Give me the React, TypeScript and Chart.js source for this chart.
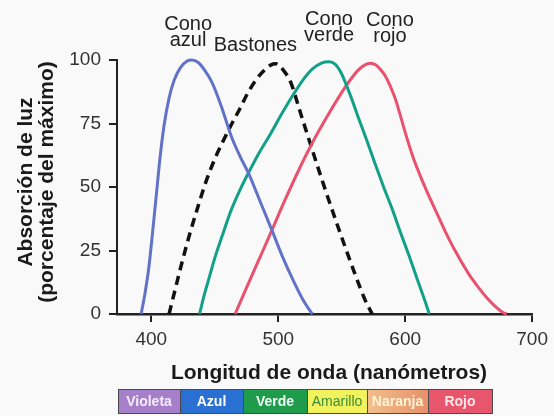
import React, { useEffect, useRef } from "react";
import { Chart, registerables } from "chart.js";

Chart.register(...registerables);

// ---- data ----
const blueX = [392, 395, 398, 401, 404, 407, 410, 414, 418, 423, 428, 432, 437, 442, 448, 455, 463, 470, 477, 486, 495, 503, 512, 519, 524, 527];
const blueY = [0, 8, 18, 32, 47, 62, 74, 85, 92, 97, 99.5, 100, 99, 96, 91, 82, 70, 62, 55, 44, 33, 23, 13, 6, 2, 0];

const rodX = [414, 418, 423, 430, 436, 443, 450, 457, 463, 470, 476, 483, 489, 494, 498, 504, 510, 517, 524, 535, 548, 561, 568, 574];
const rodY = [0, 8, 18, 31, 41, 52, 61, 68.5, 74.5, 81, 87, 92.5, 96, 98, 98.5, 96, 91, 80, 69, 52, 33, 15, 6, 0];

const greenX = [438, 442, 446, 450, 456, 463, 470, 477, 485, 494, 503, 512, 520, 527, 534, 540, 545, 549, 553, 558, 563, 570, 576, 583, 590, 596, 603, 610, 616, 619];
const greenY = [0, 8, 15, 22, 31, 41, 49, 56, 63.5, 71, 79, 86.5, 92.5, 96.5, 98.8, 99.3, 98.3, 95.5, 91, 84.5, 77.5, 68, 59.5, 50, 41, 32.5, 23, 13, 4.5, 0];

const redX = [466, 473, 480, 488, 495, 505, 516, 527, 540, 553, 558, 563, 568, 572.5, 577, 581, 584, 588, 592, 596, 600, 606, 613, 620, 626, 634, 642, 650, 657.5, 665, 672, 677, 680];
const redY = [0, 8, 16, 25, 33, 44.5, 56.5, 67.5, 79, 89.5, 93, 96, 98, 98.7, 98, 96, 94, 90, 85, 78.5, 71.5, 62, 53, 45, 38.5, 30, 22.5, 15.8, 10.6, 6, 2.5, 0.6, 0];

const xTicks = [400, 500, 600, 700];
const yTicks = [0, 25, 50, 75, 100];
const xMin = 373;
const xMax = 700;

const seriesNames = ["Cono azul", "Bastones", "Cono verde", "Cono rojo"];
const labelLines = [["Cono", "azul"], ["Bastones"], ["Cono", "verde"], ["Cono", "rojo"]];
const labelAnchorNm = [429, 482, 540, 588];

const bandLabels = ["Violeta", "Azul", "Verde", "Amarillo", "Naranja", "Rojo"];

const xTitle = "Longitud de onda (nanómetros)";
const yTitle = ["Absorción de luz", "(porcentaje del máximo)"];

const FONT = "'Liberation Sans', Arial, Helvetica, sans-serif";

function pts(xs: number[], ys: number[]) {
  return xs.map((x, i) => ({ x, y: ys[i] }));
}

const decorPlugin = {
  id: "decor",
  afterDraw(chart: any) {
    const ctx = chart.ctx as CanvasRenderingContext2D;
    const xs = chart.scales.x;
    const top = chart.chartArea.top;
    ctx.save();
    // curve labels
    ctx.fillStyle = "#222";
    ctx.font = `20px ${FONT}`;
    ctx.textAlign = "center";
    ctx.textBaseline = "alphabetic";
    const baselines = [
      [30, 46],
      [51],
      [25, 41],
      [26, 42],
    ];
    labelLines.forEach((lines, i) => {
      const cx = xs.getPixelForValue(labelAnchorNm[i]);
      lines.forEach((t, j) => {
        ctx.fillText(t, cx, top - 60 + baselines[i][j]);
      });
    });

    // x title
    ctx.font = `bold 21px ${FONT}`;
    ctx.fillStyle = "#1a1a1a";
    ctx.textBaseline = "middle";
    ctx.fillText(xTitle, 329, 373);

    // y title
    const cy = 182;
    [26, 47].forEach((cx, i) => {
      ctx.save();
      ctx.font = `bold 21px ${FONT}`;
      ctx.fillStyle = "#1a1a1a";
      ctx.textAlign = "center";
      ctx.textBaseline = "middle";
      ctx.translate(cx, cy);
      ctx.rotate(-Math.PI / 2);
      ctx.fillText(yTitle[i], 0, 0);
      ctx.restore();
    });

    // color band
    const edges = [118, 180, 243, 307, 367, 428, 492];
    const fills = ["#a67fca", "#2a70d3", "#1f9b4c", "#f1f25c", "#efa878", "#e8566d"];
    const txt = ["#f3ecfb", "#ffffff", "#f4fff6", "#3a8c3a", "#fff4d4", "#fde6ea"];
    const bTop = 389;
    const bBot = 413;
    for (let i = 0; i < bandLabels.length; i++) {
      const x0 = edges[i];
      const x1 = edges[i + 1];
      if (i === 4) {
        const g = ctx.createLinearGradient(x0, 0, x1, 0);
        g.addColorStop(0, "#f2c08c");
        g.addColorStop(1, "#e8906a");
        ctx.fillStyle = g;
      } else {
        ctx.fillStyle = fills[i];
      }
      ctx.fillRect(x0, bTop, x1 - x0, bBot - bTop);
      ctx.strokeStyle = "#4a4a4a";
      ctx.lineWidth = 1;
      ctx.strokeRect(x0 + 0.5, bTop + 0.5, x1 - x0, bBot - bTop);
      ctx.fillStyle = txt[i];
      ctx.font = i === 3 ? `14px ${FONT}` : `bold 14px ${FONT}`;
      ctx.textAlign = "center";
      ctx.textBaseline = "middle";
      ctx.fillText(bandLabels[i], (x0 + x1) / 2, (bTop + bBot) / 2 + 1);
    }
    ctx.restore();
  },
};

const bgPlugin = {
  id: "bg",
  beforeDraw(chart: any) {
    const ctx = chart.ctx as CanvasRenderingContext2D;
    ctx.save();
    ctx.fillStyle = "#f9f9f9";
    ctx.fillRect(0, 0, chart.width, chart.height);
    ctx.restore();
  },
};

export default function App() {
  const ref = useRef<HTMLCanvasElement | null>(null);
  useEffect(() => {
    document.body.style.margin = "0";
    const canvas = ref.current!;
    const common = {
      fill: false,
      pointRadius: 0,
      cubicInterpolationMode: "monotone" as const,
      clip: 6,
    };
    const chart = new Chart(canvas, {
      type: "line",
      data: {
        datasets: [
          { ...common, label: seriesNames[0], data: pts(blueX, blueY), borderColor: "#6272c8", borderWidth: 3 },
          { ...common, label: seriesNames[2], data: pts(greenX, greenY), borderColor: "#13a089", borderWidth: 3 },
          { ...common, label: seriesNames[3], data: pts(redX, redY), borderColor: "#e9526f", borderWidth: 3 },
          { ...common, label: seriesNames[1], data: pts(rodX, rodY), borderColor: "#111111", borderWidth: 3.5, borderDash: [9, 6] },
        ],
      },
      options: {
        responsive: false,
        animation: false,
        events: [],
        layout: { padding: { left: 0, top: 60, right: 20, bottom: 0 } },
        plugins: { legend: { display: false }, tooltip: { enabled: false } },
        scales: {
          x: {
            type: "linear",
            min: xMin,
            max: xMax,
            afterBuildTicks: (s: any) => {
              s.ticks = xTicks.map((v) => ({ value: v }));
            },
            afterFit: (s: any) => {
              s.height = 102;
            },
            ticks: { font: { family: FONT, size: 19 }, color: "#333", padding: 6, maxRotation: 0 },
            grid: { display: true, drawOnChartArea: false, drawTicks: true, tickLength: 8, color: "#222", lineWidth: 2 },
            border: { display: true, color: "#222", width: 2.5 },
          },
          y: {
            type: "linear",
            min: 0,
            max: 100,
            afterBuildTicks: (s: any) => {
              s.ticks = yTicks.map((v) => ({ value: v }));
            },
            afterFit: (s: any) => {
              s.width = 117;
            },
            ticks: { font: { family: FONT, size: 19 }, color: "#333", padding: 8 },
            grid: { display: true, drawOnChartArea: false, drawTicks: true, tickLength: 8, color: "#222", lineWidth: 2 },
            border: { display: true, color: "#222", width: 2 },
          },
        },
      },
      plugins: [bgPlugin, decorPlugin],
    });
    return () => chart.destroy();
  }, []);
  return (
    <div style={{ width: 554, height: 416 }}>
      <canvas ref={ref} width={554} height={416} style={{ display: "block" }} />
    </div>
  );
}
